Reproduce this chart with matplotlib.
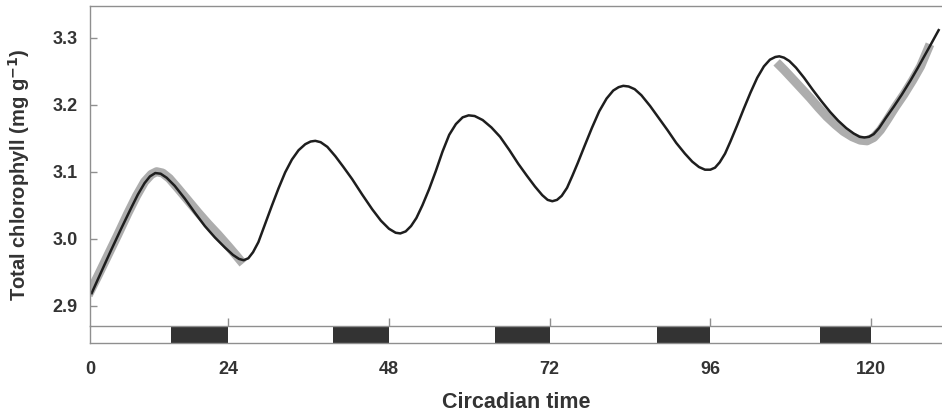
import matplotlib
matplotlib.use("Agg")
import matplotlib.pyplot as plt


OUTPUT_PATH = "out.png"

# fitted rhythm (black line), circadian time in h vs total chlorophyll
fit_time = [
    3.6, 5.0, 6.5, 8.0, 9.5, 10.5, 11.5, 12.3, 13.1, 13.9, 14.8, 16.0,
    17.5, 19.0, 20.5, 22.0, 23.5, 24.7, 25.6, 26.3, 27.0, 27.7, 28.5, 29.5,
    30.5, 31.5, 32.5, 33.5, 34.5, 35.5, 36.3, 37.0, 37.8, 38.8, 40.0, 41.2,
    42.5, 44.0, 45.5, 46.8, 48.0, 49.0, 49.7, 50.5, 51.3, 52.1, 53.0, 54.0,
    55.0, 56.0, 57.0, 58.0, 59.0, 59.9, 60.8, 62.0, 63.3, 64.6, 66.0, 67.3,
    68.6, 69.8, 70.9, 71.7, 72.4, 73.1, 73.8, 74.6, 75.4, 76.2, 77.2, 78.3,
    79.4, 80.5, 81.5, 82.3, 83.0, 83.8, 84.7, 85.7, 87.0, 88.3, 89.6, 90.9,
    92.2, 93.3, 94.3, 95.2, 96.0, 96.7, 97.4, 98.2, 99.0, 100.0, 101.0, 102.0,
    103.0, 104.0, 104.9, 105.7, 106.3, 107.0, 107.8, 108.8, 110.0, 111.3, 112.6, 113.9,
    115.1, 116.3, 117.4, 118.3, 119.0, 119.7, 120.4, 121.2, 122.2, 123.4, 124.6, 125.9,
    127.0, 128.0, 129.0, 130.1,
]
fit_chl = [
    2.919, 2.950, 2.983, 3.015, 3.046, 3.066, 3.083, 3.093, 3.098, 3.097, 3.091, 3.079,
    3.060, 3.039, 3.019, 3.002, 2.987, 2.976, 2.970, 2.968, 2.971, 2.980, 2.995, 3.022,
    3.049, 3.075, 3.099, 3.118, 3.132, 3.141, 3.145, 3.146, 3.144, 3.137, 3.123, 3.107,
    3.089, 3.066, 3.044, 3.027, 3.015, 3.009, 3.008, 3.011, 3.019, 3.031, 3.050, 3.074,
    3.101, 3.130, 3.155, 3.171, 3.181, 3.184, 3.183, 3.177, 3.166, 3.152, 3.132, 3.112,
    3.094, 3.078, 3.065, 3.058, 3.056, 3.058, 3.064, 3.076, 3.094, 3.113, 3.138, 3.165,
    3.190, 3.209, 3.221, 3.226, 3.228, 3.227, 3.223, 3.214, 3.198, 3.180, 3.162, 3.143,
    3.127, 3.115, 3.107, 3.103, 3.103, 3.106, 3.114, 3.127, 3.145, 3.169, 3.194, 3.218,
    3.240, 3.257, 3.267, 3.271, 3.272, 3.270, 3.265, 3.255, 3.240, 3.222, 3.205, 3.189,
    3.176, 3.165, 3.157, 3.152, 3.151, 3.152, 3.156, 3.165, 3.180, 3.197, 3.215, 3.236,
    3.255, 3.273, 3.291, 3.311,
]

# measured segments (grey bands)
early_time = [3.1, 4.5, 6.0, 7.5, 9.0, 10.3, 11.5, 12.5, 13.3, 14.2, 15.2, 16.5,
              18.0, 19.5, 21.0, 22.5, 24.0, 25.2, 26.2]
early_chl = [2.916, 2.944, 2.975, 3.006, 3.038, 3.064, 3.085, 3.096, 3.100, 3.098, 3.090, 3.075,
             3.057, 3.039, 3.022, 3.006, 2.989, 2.975, 2.963]

late_time = [105.9, 107.0, 108.4, 109.7, 110.9, 112.2, 113.4, 114.7, 115.9, 117.2, 118.4, 119.4,
             120.4, 121.4, 122.4, 123.6, 124.9, 126.2, 127.4, 128.8]
late_chl = [3.263, 3.252, 3.237, 3.223, 3.210, 3.195, 3.182, 3.170, 3.160, 3.152, 3.147, 3.146,
            3.151, 3.162, 3.177, 3.196, 3.215, 3.236, 3.257, 3.290]

# dark periods shown in the light/dark bar
dark_start = [15.4, 39.7, 63.9, 88.1, 112.4]
dark_end = [24, 48, 72, 96, 120]

x_ticks = [24, 48, 72, 96, 120]
x_tick_labels = ["0", "24", "48", "72", "96", "120"]
y_ticks = [2.9, 3.0, 3.1, 3.2, 3.3]

X_MIN, X_MAX = 3.35, 130.6
Y_MIN, Y_MAX = 2.870, 3.347

W, H = 942, 413
SPINE_COLOR = "#8f8f8f"
TEXT_COLOR = "#333333"


def style_spines(ax):
    ax.spines["right"].set_visible(False)
    for side in ["left", "top", "bottom"]:
        ax.spines[side].set_color(SPINE_COLOR)
        ax.spines[side].set_linewidth(1.0)


def draw_main(fig):
    ax = fig.add_axes([90 / W, (H - 326) / H, (W - 90) / W, 320 / H])
    ax.set_zorder(2)
    ax.patch.set_alpha(0)
    band = dict(color="#adadad", lw=6.5, solid_capstyle="butt", solid_joinstyle="round", zorder=1)
    ax.plot(early_time, early_chl, **band)
    ax.plot(late_time, late_chl, **band)
    ax.plot(fit_time, fit_chl, color="#1e1e1e", lw=1.8, solid_joinstyle="round", zorder=2)

    ax.set_xlim(X_MIN, X_MAX)
    ax.set_ylim(Y_MIN, Y_MAX)
    ax.set_xticks(x_ticks)
    ax.set_xticklabels([])
    ax.set_yticks(y_ticks)
    ax.set_yticklabels([f"{v:.1f}" for v in y_ticks])
    ax.tick_params(axis="x", direction="in", length=6, color=SPINE_COLOR, width=1)
    ax.tick_params(axis="y", direction="in", length=5, color=SPINE_COLOR, width=1,
                   pad=9, labelsize=13, labelcolor=TEXT_COLOR)
    for lab in ax.get_yticklabels():
        lab.set_fontweight("bold")
    style_spines(ax)
    return ax


def draw_strip(fig):
    ax = fig.add_axes([90 / W, (H - 343) / H, (W - 90) / W, 17 / H])
    ax.set_zorder(1)
    widths = [e - s for s, e in zip(dark_start, dark_end)]
    ax.bar(dark_start, 1, width=widths, bottom=0, align="edge", color="#333333", zorder=1)
    ax.set_xlim(X_MIN, X_MAX)
    ax.set_ylim(0, 1)
    ax.set_yticks([])
    ax.set_xticks([X_MIN] + x_ticks)
    ax.set_xticklabels(x_tick_labels)
    ax.tick_params(axis="x", length=0, pad=13, labelsize=13, labelcolor=TEXT_COLOR)
    for lab in ax.get_xticklabels():
        lab.set_fontweight("bold")
    style_spines(ax)
    ax.spines["top"].set_visible(False)
    return ax


def make_figure():
    plt.rcParams["font.family"] = ["Liberation Sans", "DejaVu Sans"]
    fig = plt.figure(figsize=(W / 100, H / 100), dpi=100)

    draw_main(fig)
    draw_strip(fig)

    fig.text(19 / W, 1 - 175 / H, "Total chlorophyll (mg g$^{\\mathbf{-1}}$)", rotation=90,
             ha="center", va="center", fontsize=14.5, fontweight="bold", color=TEXT_COLOR)
    fig.text(516 / W, 1 - 403 / H, "Circadian time", ha="center", va="center",
             fontsize=15.5, fontweight="bold", color=TEXT_COLOR)

    fig.savefig(OUTPUT_PATH, dpi=100)
    plt.close(fig)


if __name__ == "__main__":
    make_figure()
